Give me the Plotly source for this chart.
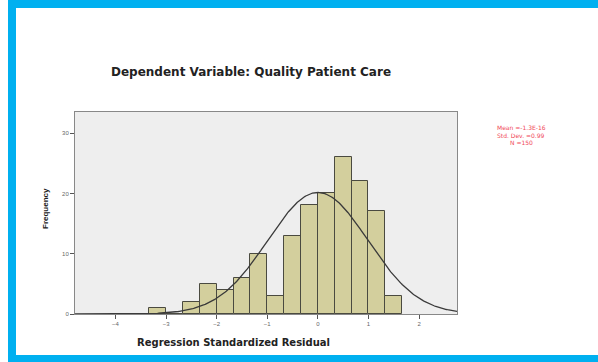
import numpy as np
import plotly.graph_objects as go

# ---- data ----
bin_start = -10 / 3          # left edge of first bin
bin_width = 1 / 3
counts = [1, 0, 2, 5, 4, 6, 10, 3, 13, 18, 20, 26, 22, 17, 3]
mean_val = -1.3e-16
sd_val = 0.99
n_val = 150
x_ticks = [-4, -3, -2, -1, 0, 1, 2]
y_ticks = [0, 10, 20, 30]
stats_lines = ["Mean =-1.3E-16", "Std. Dev. =0.99", "N =150"]

centers = [bin_start + (i + 0.5) * bin_width for i in range(len(counts))]

x_range = [-4.8, 2.75]
xc = np.linspace(x_range[0], x_range[1], 400)
yc = n_val * bin_width / (sd_val * np.sqrt(2 * np.pi)) * np.exp(-0.5 * ((xc - mean_val) / sd_val) ** 2)

W, H = 598, 362
L, R, T, B = 75, 457, 112, 314


def px(x):
    return (x - L) / (R - L)


def py(y):
    return (B - y) / (B - T)


fig = go.Figure()
fig.add_trace(go.Bar(x=centers, y=counts, width=bin_width,
                     marker=dict(color="#D3CF9D", line=dict(color="#4a4a40", width=1)),
                     hoverinfo="skip"))
fig.add_trace(go.Scatter(x=xc, y=yc, mode="lines",
                         line=dict(color="#3a3a3a", width=1.3), hoverinfo="skip"))

font = "Liberation Sans, Arial, sans-serif"
wide = "DejaVu Sans, Verdana, sans-serif"
fig.update_layout(
    width=W, height=H,
    margin=dict(l=L, r=W - R, t=T, b=H - B),
    paper_bgcolor="white", plot_bgcolor="#EEEEEE",
    showlegend=False, bargap=0,
    font=dict(family=font, color="#333"),
    xaxis=dict(range=x_range, tickvals=x_ticks, ticks="outside", ticklen=4,
               tickcolor="#555", showgrid=False, zeroline=False,
               showline=True, linecolor="#888", mirror=True,
               tickfont=dict(size=6, color="#666")),
    yaxis=dict(range=[0, 33.5], tickvals=y_ticks, ticks="outside", ticklen=4,
               tickcolor="#555", showgrid=False, zeroline=False,
               showline=True, linecolor="#888", mirror=True,
               tickfont=dict(size=6, color="#666")),
)

ann = [
    dict(text="<b>Dependent Variable: Quality Patient Care</b>", x=px(251), y=py(72),
         font=dict(size=12, color="#222", family=wide)),
    dict(text="<b>Regression Standardized Residual</b>", x=px(233), y=py(342),
         font=dict(size=10, color="#222", family=wide)),
    dict(text="<b>Frequency</b>", x=px(45), y=py(209), textangle=-90,
         font=dict(size=8, color="#222")),
]
for i, line in enumerate(stats_lines):
    ann.append(dict(text=line, x=px(521), y=py(128 + 7 * i),
                    font=dict(size=6, color="#F04858", family=wide)))
for a in ann:
    a.update(xref="paper", yref="paper", showarrow=False, xanchor="center", yanchor="middle")
fig.update_layout(annotations=ann)

cyan = "#00B0F0"
rects = [
    (8, 0, 598, 8),     # top
    (8, 0, 16, 362),    # left
    (8, 355, 598, 362), # bottom
]
shapes = []
for x0, y0, x1, y1 in rects:
    shapes.append(dict(type="rect", xref="paper", yref="paper",
                       x0=px(x0), x1=px(x1), y0=py(y1), y1=py(y0),
                       fillcolor=cyan, line=dict(width=0), layer="above"))
fig.update_layout(shapes=shapes)

fig.write_html("out.html", config={"displayModeBar": False},
               post_script="document.body.style.margin='0';document.body.style.overflow='hidden';")
